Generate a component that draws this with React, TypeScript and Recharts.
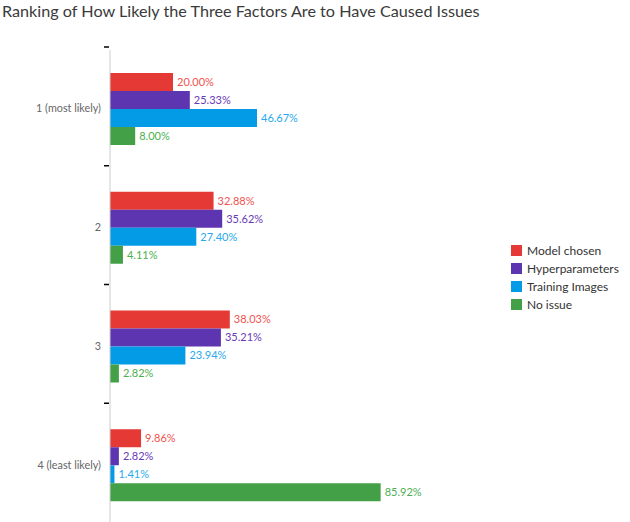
import React from 'react';
import { Bar, BarChart, LabelList, XAxis, YAxis } from 'recharts';

const categories = ['1 (most likely)', '2', '3', '4 (least likely)'];
const modelChosen = [20.0, 32.88, 38.03, 9.86];
const hyperparameters = [25.33, 35.62, 35.21, 2.82];
const trainingImages = [46.67, 27.4, 23.94, 1.41];
const noIssue = [8.0, 4.11, 2.82, 85.92];

const series = [
  { key: 'model', name: 'Model chosen', values: modelChosen, color: '#e53935', label: '#ef5350' },
  { key: 'hyper', name: 'Hyperparameters', values: hyperparameters, color: '#5e35b1', label: '#673ab7' },
  { key: 'train', name: 'Training Images', values: trainingImages, color: '#039be5', label: '#29a9ec' },
  { key: 'none', name: 'No issue', values: noIssue, color: '#43a047', label: '#4caf50' },
];

const data = categories.map((name, i) => {
  const row: Record<string, string | number> = { name };
  series.forEach(s => {
    row[s.key] = s.values[i];
  });
  return row;
});

const FONT = 'Lato, "Noto Sans", sans-serif';
const TOP = 50;
const SHIFT = 3;
const HEIGHT = 522;
const BAND = (HEIGHT - TOP + SHIFT) / categories.length;

const CategoryTick = (props: any) => {
  const { x, y, payload } = props;
  const ty = y - BAND / 2 - SHIFT;
  return (
    <g>
      <line x1={x + 2} x2={x + 7} y1={ty} y2={ty} stroke="#000" strokeWidth={1.5} />
      <text x={x - 1} y={y - 1} dy={4} textAnchor="end" fontSize={10.8} fill="#666" fontFamily={FONT}>
        {payload.value}
      </text>
    </g>
  );
};

export default function App() {
  return (
    <div style={{ position: 'absolute', left: 0, top: 0, width: 630, height: 522, background: '#fff', overflow: 'hidden' }}>
      <div
        style={{
          position: 'absolute',
          left: 2,
          top: 0,
          fontFamily: FONT,
          fontSize: 16.2,
          color: '#3a3a3a',
          lineHeight: '22px',
          whiteSpace: 'nowrap',
        }}
      >
        Ranking of How Likely the Three Factors Are to Have Caused Issues
      </div>
      <BarChart
        width={630}
        height={HEIGHT}
        data={data}
        layout="vertical"
        margin={{ top: TOP, right: 205, bottom: -SHIFT, left: 0 }}
        barSize={18}
        barGap={0}
      >
        <XAxis type="number" domain={[0, 100]} hide />
        <YAxis
          type="category"
          dataKey="name"
          width={110}
          axisLine={{ stroke: '#cccccc' }}
          tickLine={false}
          tick={<CategoryTick />}
          interval={0}
        />
        {series.map(s => (
          <Bar key={s.key} dataKey={s.key} name={s.name} fill={s.color} isAnimationActive={false}>
            <LabelList
              dataKey={s.key}
              position="right"
              offset={4}
              fill={s.label}
              fontSize={11}
              fontFamily={FONT}
              formatter={(v: any) => `${Number(v).toFixed(2)}%`}
            />
          </Bar>
        ))}
      </BarChart>
      <div style={{ position: 'absolute', left: 511, top: 241, fontFamily: FONT, fontSize: 12, color: '#333' }}>
        {series.map(s => (
          <div key={s.key} style={{ display: 'flex', alignItems: 'center', height: 18 }}>
            <span style={{ width: 11, height: 11, background: s.color, marginRight: 5, display: 'inline-block' }} />
            {s.name}
          </div>
        ))}
      </div>
    </div>
  );
}
